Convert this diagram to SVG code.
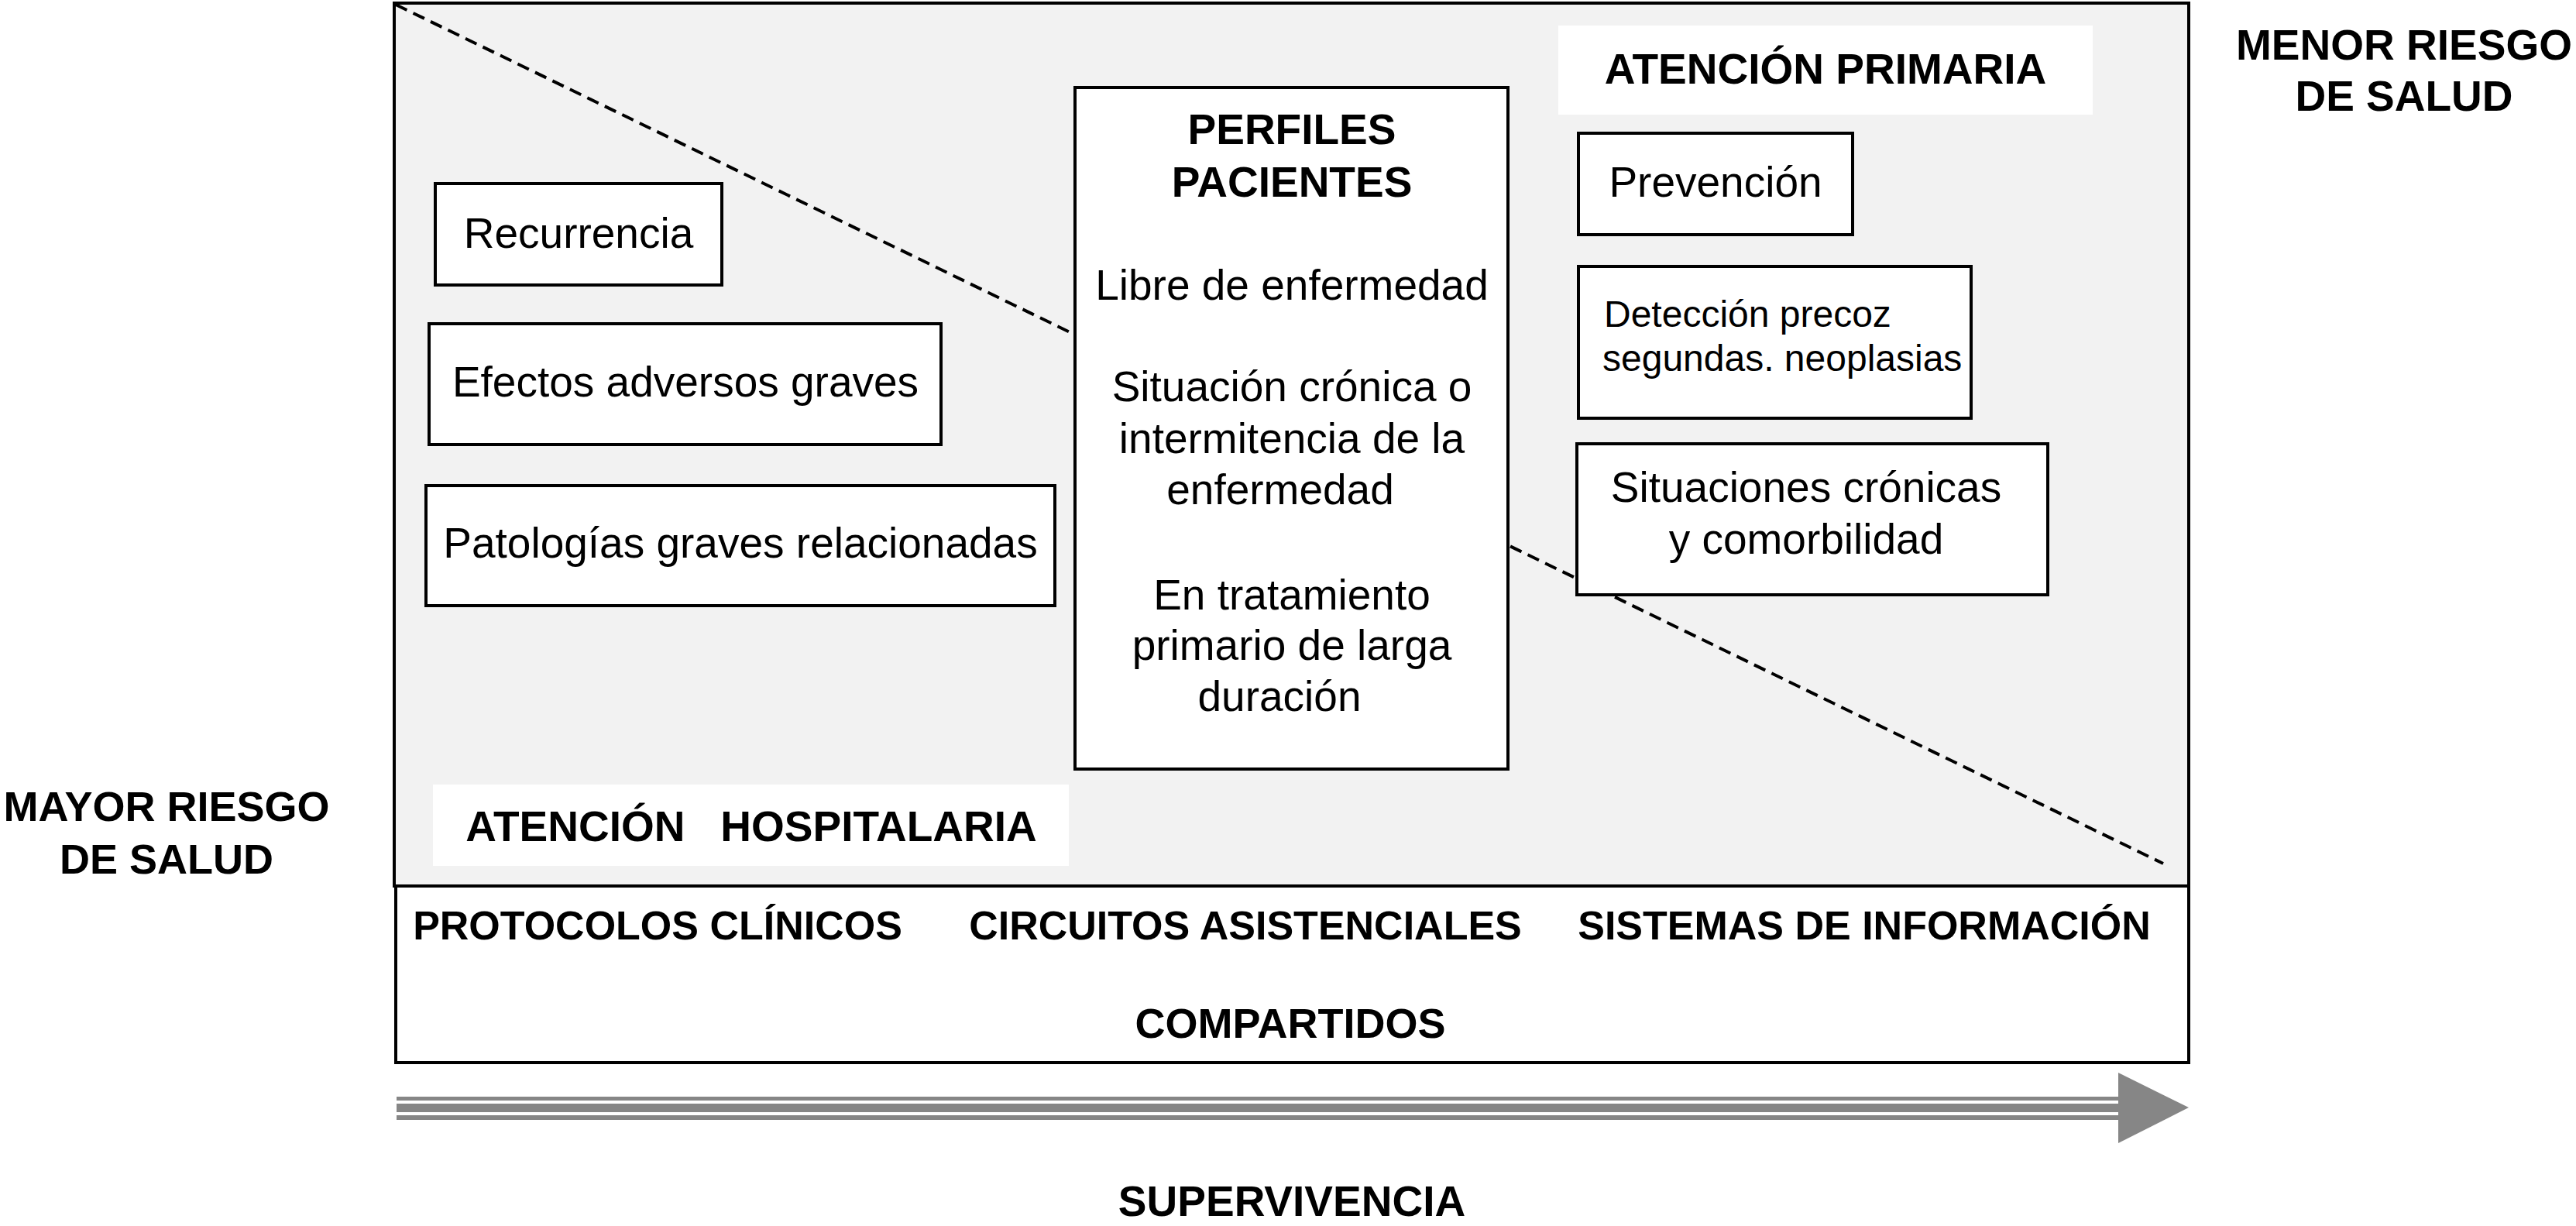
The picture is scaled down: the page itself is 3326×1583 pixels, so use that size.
<svg xmlns="http://www.w3.org/2000/svg" width="3326" height="1583" viewBox="0 0 3326 1583">
<style>
.box{fill:#fff;stroke:#000;stroke-width:4}
.lbl{fill:#fff;stroke:none}
text{font-family:"Liberation Sans",Arial,Helvetica,sans-serif;font-size:55px;fill:#000}
.c{text-anchor:middle}
.b{font-weight:bold}
.s48{font-size:48px}
.s52{font-size:52px}
.arr{fill:#868686}
</style>
<rect x="0" y="0" width="3326" height="1583" fill="#fff"/>
<g id="panel">
<rect x="509" y="4" width="2317" height="1140" fill="#f2f2f2" stroke="#000" stroke-width="4"/>
</g>
<g id="connectors">
<line x1="511" y1="6" x2="2793" y2="1115" stroke="#000" stroke-width="4" stroke-dasharray="16 9"/>
</g>
<g id="recurrencia">
<rect class="box" x="562" y="237" width="370" height="131"/>
<text class="c" x="747" y="320">Recurrencia</text>
</g>
<g id="efectos">
<rect class="box" x="554" y="418" width="661" height="156"/>
<text class="c" x="885" y="512">Efectos adversos graves</text>
</g>
<g id="patologias">
<rect class="box" x="550" y="627" width="812" height="155"/>
<text class="c" x="956" y="720">Patologías graves relacionadas</text>
</g>
<g id="perfiles">
<rect class="box" x="1388" y="113" width="559" height="880"/>
<text class="c b" x="1668" y="186">PERFILES</text>
<text class="c b" x="1668" y="254">PACIENTES</text>
<text class="c" x="1668" y="387">Libre de enfermedad</text>
<text class="c" x="1668" y="518">Situación crónica o</text>
<text class="c" x="1668" y="585">intermitencia de la</text>
<text class="c" x="1653" y="651">enfermedad</text>
<text class="c" x="1668" y="787">En tratamiento</text>
<text class="c" x="1668" y="852">primario de larga</text>
<text class="c" x="1652" y="918">duración</text>
</g>
<g id="atencion-primaria">
<rect class="lbl" x="2012" y="33" width="690" height="115"/>
<text class="c b" x="2357" y="108">ATENCIÓN PRIMARIA</text>
</g>
<g id="prevencion">
<rect class="box" x="2038" y="172" width="354" height="131"/>
<text class="c" x="2215" y="254">Prevención</text>
</g>
<g id="deteccion">
<rect class="box" x="2038" y="344" width="507" height="196"/>
<text class="s48" x="2071" y="422">Detección precoz</text>
<text class="s48" x="2069" y="479">segundas. neoplasias</text>
</g>
<g id="situaciones">
<rect class="box" x="2036" y="573" width="608" height="195"/>
<text class="c" x="2332" y="648">Situaciones crónicas</text>
<text class="c" x="2332" y="715">y comorbilidad</text>
</g>
<g id="menor-riesgo">
<text class="c b" x="3104" y="77">MENOR RIESGO</text>
<text class="c b" x="3104" y="143">DE SALUD</text>
</g>
<g id="mayor-riesgo">
<text class="c b" x="215" y="1060" style="font-size:54px">MAYOR RIESGO</text>
<text class="c b" x="215" y="1128" style="font-size:54px">DE SALUD</text>
</g>
<g id="atencion-hospitalaria">
<rect class="lbl" x="559" y="1013" width="821" height="105"/>
<text class="c b" x="970" y="1086" xml:space="preserve">ATENCIÓN   HOSPITALARIA</text>
</g>
<g id="compartidos">
<rect x="511" y="1144" width="2315" height="228" fill="#fff" stroke="#000" stroke-width="4"/>
<text class="c b s52" x="849" y="1213">PROTOCOLOS CLÍNICOS</text>
<text class="c b s52" x="1608" y="1213">CIRCUITOS ASISTENCIALES</text>
<text class="c b s52" x="2407" y="1213">SISTEMAS DE INFORMACIÓN</text>
<text class="c b" x="1666" y="1340" style="font-size:54px">COMPARTIDOS</text>
</g>
<g id="supervivencia">
<rect class="arr" x="512" y="1416" width="2223" height="5"/>
<rect class="arr" x="512" y="1425" width="2223" height="11"/>
<rect class="arr" x="512" y="1440" width="2223" height="6"/>
<polygon class="arr" points="2735,1385 2826,1430 2735,1476"/>
<text class="c b" x="1668" y="1570">SUPERVIVENCIA</text>
</g>
</svg>
